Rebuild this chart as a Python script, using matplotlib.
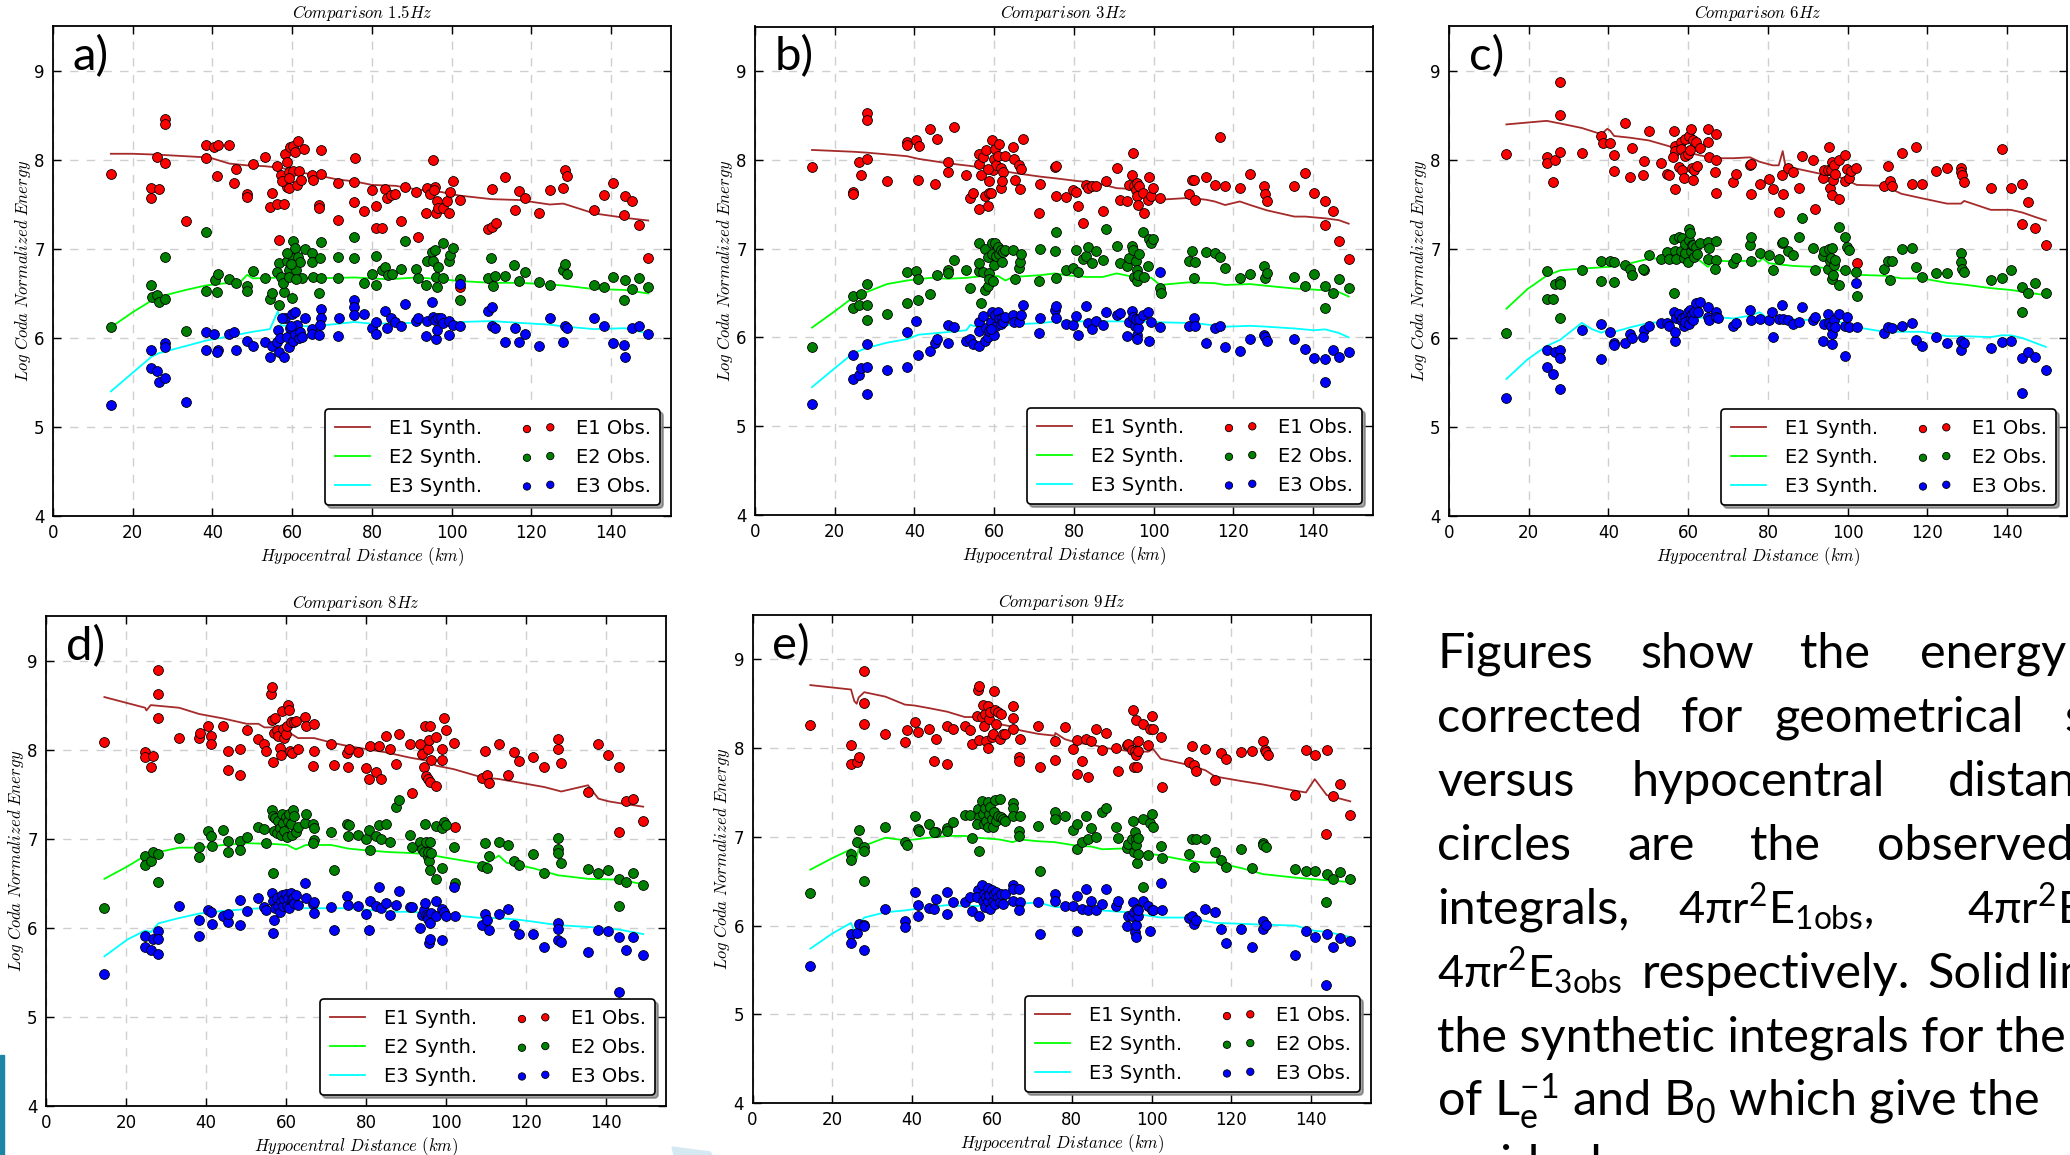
import matplotlib
matplotlib.use('Agg')
import matplotlib.pyplot as plt
from matplotlib.patches import Rectangle, Polygon

plt.rcParams['font.family'] = ['DejaVu Sans']
plt.rcParams['mathtext.fontset'] = 'custom'
plt.rcParams['mathtext.rm'] = 'Lato'
plt.rcParams['mathtext.it'] = 'Lato:italic'
plt.rcParams['mathtext.bf'] = 'Lato:bold'
plt.rcParams['mathtext.fallback'] = 'stixsans'

# ---- 1.5 Hz : observed (distance km, log energy) ----
a_e1 = [(14.5,7.84),(24.7,7.68),(24.7,7.57),(26.2,8.03),(26.6,7.67),(28.1,8.46),(28.1,8.41),(28.1,7.97),(33.3,7.32),
        (38.3,8.17),(38.3,8.02),(40.5,8.15),(41.4,8.17),(41.2,7.82),(44.2,8.17),(45.8,7.90),(45.5,7.74),(48.7,7.62),
        (48.7,7.58),(50.1,7.95),(53.2,8.03),(55.0,7.63),(54.5,7.47),(56.7,7.10),(56.3,7.51),(58.0,7.51),(56.2,7.93),
        (57.2,7.83),(58.1,8.07),(58.7,7.98),(59.3,7.87),(58.8,7.70),(59.2,7.68),(59.5,8.15),(60.3,8.16),(60.8,8.09),
        (60.1,7.88),(61.4,8.21),(61.8,7.88),(62.9,8.12),(61.2,7.72),(62.3,7.78),(57.5,7.76),(59.2,7.80),(65.0,7.83),
        (65.2,7.77),(67.2,8.11),(67.3,7.84),(66.7,7.49),(66.7,7.46),(71.5,7.74),(71.5,7.33),(75.7,8.02),(75.6,7.75),
        (75.6,7.53),(78.0,7.43),(80.0,7.66),(80.9,7.48),(81.1,7.24),(82.6,7.24),(83.2,7.67),(83.8,7.57),(84.8,7.61),
        (85.9,7.62),(87.3,7.31),(88.4,7.70),(91.1,7.64),(91.6,7.13),(93.5,7.40),(93.8,7.68),(94.6,7.62),(95.2,8.00),
        (95.7,7.70),(96.3,7.54),(96.0,7.41),(96.6,7.46),(97.7,7.46),(95.6,7.66),(98.8,7.54),(99.2,7.41),(99.6,7.64),
        (100.2,7.76),(102.0,7.55),(102.0,6.57),(109.0,7.22),(110.0,7.67),(110.0,7.25),(111.0,7.29),(113.3,7.81),
        (115.8,7.44),(117.0,7.65),(118.4,7.57),(121.8,7.41),(124.6,7.66),(128.0,7.69),(128.3,7.89),(128.8,7.82),
        (135.7,7.44),(138.3,7.61),(140.5,7.74),(143.3,7.38),(143.5,7.59),(145.1,7.54),(146.9,7.27),(149.3,6.90)]
a_e2 = [(14.5,6.12),(24.7,6.59),(24.9,6.46),(26.2,6.48),(26.6,6.41),(28.1,6.44),(28.1,6.91),(33.3,6.08),(38.3,7.19),
        (38.3,6.53),(40.6,6.65),(41.4,6.72),(41.2,6.52),(44.2,6.66),(45.8,6.62),(48.6,6.58),(48.6,6.53),(50.1,6.75),
        (53.2,6.67),(54.4,6.44),(55.0,6.50),(56.7,6.37),(56.7,6.84),(56.3,6.74),(57.3,6.68),(58.0,6.52),(57.8,6.62),
        (58.7,6.87),(59.3,6.76),(60.1,7.09),(60.6,7.01),(60.2,6.90),(59.2,6.68),(59.9,6.45),(61.0,6.76),(61.5,6.91),
        (62.0,6.85),(62.4,6.67),(63.1,7.00),(59.7,6.83),(58.7,6.96),(60.9,6.66),(65.0,6.96),(65.0,6.85),(65.2,6.68),
        (66.7,6.50),(67.2,7.08),(67.0,6.90),(67.3,6.67),(71.5,6.91),(71.5,6.67),(75.6,7.14),(75.5,6.90),(78.0,6.62),
        (80.0,6.72),(80.9,6.92),(80.9,6.60),(82.6,6.76),(83.2,6.80),(83.9,6.71),(85.0,6.72),(87.3,6.78),(88.4,7.09),
        (91.1,6.78),(91.6,6.67),(93.5,6.59),(93.8,6.86),(95.0,6.97),(95.4,6.87),(95.8,6.99),(96.1,6.68),(96.2,6.57),
        (96.5,6.80),(97.7,7.07),(97.7,6.67),(99.2,6.86),(99.6,6.93),(100.2,7.01),(102.0,6.66),(102.0,6.43),(109.0,6.67),
        (109.8,6.90),(110.3,6.58),(110.9,6.70),(113.3,6.70),(115.7,6.82),(117.0,6.64),(118.4,6.74),(121.8,6.63),
        (124.6,6.59),(128.0,6.76),(128.3,6.83),(128.8,6.72),(135.7,6.59),(138.3,6.57),(140.5,6.68),(143.3,6.43),
        (143.5,6.65),(145.1,6.55),(146.9,6.67),(149.3,6.57)]
a_e3 = [(14.5,5.25),(24.7,5.86),(24.7,5.66),(26.2,5.63),(26.6,5.50),(28.1,5.94),(28.1,5.90),(28.1,5.55),(33.3,5.28),
        (38.3,6.07),(38.3,5.87),(40.5,6.04),(41.4,5.86),(41.2,5.84),(44.2,6.04),(45.4,6.07),(45.8,5.86),(48.6,5.97),
        (50.1,5.91),(53.2,5.96),(54.4,5.79),(55.0,5.91),(56.7,5.84),(58.0,5.79),(56.4,6.09),(56.3,5.95),(57.0,6.00),
        (58.1,6.22),(58.7,6.01),(59.2,5.90),(59.4,6.11),(60.0,6.27),(60.3,5.97),(60.6,6.29),(60.8,6.05),(61.2,6.15),
        (61.6,6.00),(62.0,6.07),(62.5,6.01),(63.1,6.23),(59.8,6.13),(57.5,6.22),(65.0,6.10),(65.0,6.05),(66.7,6.03),
        (67.2,6.33),(67.3,6.22),(67.0,6.15),(71.5,6.02),(71.8,6.22),(75.6,6.43),(75.4,6.35),(75.6,6.26),(78.0,6.27),
        (80.0,6.11),(80.9,6.18),(80.9,6.04),(83.2,6.30),(83.8,6.11),(84.8,6.23),(85.9,6.18),(87.3,6.14),(88.4,6.38),
        (91.1,6.19),(91.6,6.22),(93.5,6.02),(93.8,6.19),(95.0,6.41),(95.2,6.24),(95.7,6.20),(96.1,5.99),(96.3,6.09),
        (96.6,6.22),(97.4,6.22),(97.7,6.17),(99.2,6.03),(99.2,6.19),(100.2,6.15),(102.0,6.61),(102.0,6.14),(109.0,6.30),
        (110.0,6.35),(110.0,6.14),(110.9,6.11),(113.3,5.96),(115.8,6.11),(117.0,5.96),(118.4,6.05),(121.8,5.91),
        (124.6,6.23),(128.0,5.96),(128.3,6.14),(128.8,6.11),(135.7,6.22),(138.3,6.13),(140.5,5.94),(143.3,5.92),
        (143.5,5.79),(145.1,6.11),(146.9,6.14),(149.3,6.04)]
# 1.5 Hz : synthetic curves
a_s1 = [(14.5,8.07),(20.0,8.07),(26.2,8.06),(38.3,8.03),(39.8,8.02),(44.2,7.96),(48.6,7.94),(53.2,7.93),(57.5,7.91),
        (60.3,7.87),(65.0,7.84),(71.5,7.78),(75.6,7.76),(80.0,7.72),(85.9,7.71),(91.1,7.67),(97.4,7.64),(102.0,7.60),
        (110.0,7.56),(117.0,7.55),(124.6,7.50),(128.0,7.51),(135.7,7.40),(143.5,7.35),(149.3,7.32)]
a_s2 = [(14.5,6.12),(20.0,6.29),(24.7,6.42),(28.1,6.48),(33.3,6.54),(38.3,6.59),(44.2,6.62),(47.0,6.63),(48.7,6.71),
        (50.1,6.67),(57.5,6.68),(65.0,6.67),(75.6,6.68),(84.1,6.66),(91.1,6.68),(97.4,6.66),(102.0,6.64),(110.0,6.62),
        (117.0,6.62),(124.6,6.60),(128.0,6.59),(135.7,6.55),(143.5,6.54),(149.3,6.50)]
a_s3 = [(14.5,5.40),(20.0,5.61),(24.7,5.79),(26.6,5.83),(33.3,5.91),(38.3,5.97),(44.2,6.02),(50.1,6.07),(54.4,6.10),
        (56.4,6.30),(57.2,6.14),(65.0,6.13),(71.5,6.16),(75.6,6.18),(80.0,6.16),(91.1,6.17),(97.4,6.18),(102.0,6.18),
        (110.0,6.19),(117.0,6.17),(124.6,6.15),(128.0,6.13),(135.7,6.10),(143.5,6.11),(149.3,6.05)]

# ---- 3 Hz ----
b_e1 = [(14.3,7.92),(24.6,7.64),(24.6,7.61),(26.1,7.97),(26.5,7.83),(28.0,8.53),(28.0,8.45),(28.0,8.01),(33.1,7.76),
        (38.1,8.20),(38.2,8.17),(40.3,8.22),(41.2,8.15),(41.0,7.77),(44.0,8.35),(45.6,8.23),(45.2,7.73),(48.4,7.97),
        (48.4,7.86),(50.0,8.37),(53.0,7.83),(54.0,7.57),(54.7,7.63),(56.3,7.45),(58.5,7.48),(56.3,8.07),(56.1,7.95),
        (56.6,7.83),(57.1,8.03),(57.7,7.59),(58.0,8.11),(58.8,7.76),(58.8,7.63),(59.1,7.62),(59.5,8.22),(59.8,7.88),
        (59.9,8.01),(60.3,8.12),(60.5,7.94),(61.0,8.04),(61.3,8.18),(61.7,7.91),(61.7,7.68),(62.3,7.86),(62.0,7.76),
        (58.4,7.90),(62.8,8.04),(64.7,8.14),(64.9,8.01),(65.1,7.77),(66.3,7.94),(66.7,7.90),(66.5,7.67),(67.1,8.23),
        (71.5,7.73),(71.3,7.40),(75.2,7.92),(75.5,7.93),(75.4,7.59),(77.9,7.58),(79.8,7.66),(80.5,7.64),(80.9,7.48),
        (82.3,7.29),(83.1,7.71),(83.6,7.68),(84.6,7.70),(85.5,7.70),(87.2,7.42),(88.1,7.76),(90.7,7.91),(91.5,7.55),
        (93.2,7.53),(93.7,7.71),(94.6,7.83),(94.9,8.08),(95.0,7.70),(95.5,7.66),(95.8,7.74),(95.9,7.59),(96.1,7.49),
        (96.3,7.70),(97.4,7.63),(97.6,7.40),(98.5,7.55),(98.9,7.80),(99.4,7.59),(99.8,7.68),(101.6,7.57),(108.8,7.61),
        (109.6,7.77),(110.1,7.77),(110.4,7.55),(113.1,7.80),(115.3,7.72),(116.6,8.26),(117.9,7.70),(121.6,7.68),
        (124.2,7.84),(127.6,7.70),(127.9,7.61),(128.4,7.54),(135.3,7.70),(138.0,7.85),(140.2,7.62),(143.0,7.54),
        (142.9,7.27),(144.9,7.42),(146.4,7.09),(148.9,6.88)]
b_e2 = [(14.3,5.89),(24.6,6.47),(24.6,6.33),(26.1,6.37),(26.5,6.49),(28.0,6.60),(28.0,6.37),(28.0,6.20),(33.1,6.26),
        (38.1,6.74),(38.1,6.39),(40.3,6.75),(41.0,6.66),(41.0,6.42),(44.0,6.49),(45.6,6.70),(48.4,6.76),(48.4,6.72),
        (50.0,6.87),(53.0,6.76),(54.0,6.56),(56.3,7.06),(56.3,6.75),(56.3,6.84),(56.6,6.39),(57.1,6.74),(57.7,7.00),
        (57.7,6.53),(58.5,6.90),(58.5,6.58),(58.8,6.72),(59.5,7.06),(59.5,6.94),(59.9,6.82),(60.1,7.06),(60.5,6.92),
        (61.0,7.02),(61.3,6.94),(61.7,6.98),(62.0,6.85),(62.3,6.96),(62.7,6.98),(58.8,6.66),(59.7,6.64),(64.7,6.98),
        (65.1,6.66),(66.3,6.78),(66.5,6.85),(66.7,6.94),(71.5,6.99),(71.3,6.64),(75.2,6.97),(75.5,7.19),(75.4,6.67),
        (77.9,6.76),(79.8,6.78),(80.5,6.98),(80.9,6.74),(82.3,6.88),(83.1,6.92),(83.6,7.02),(84.6,6.84),(85.5,6.97),
        (87.2,6.87),(88.1,7.22),(90.7,7.03),(91.5,6.84),(93.2,6.80),(93.7,6.89),(94.6,7.03),(94.9,6.98),(95.0,6.68),
        (95.5,6.86),(95.8,6.76),(95.9,6.63),(96.1,6.70),(96.3,6.94),(97.4,7.19),(97.6,6.68),(98.5,6.80),(98.9,7.11),
        (99.4,7.06),(99.8,7.11),(101.6,6.56),(101.8,6.50),(108.8,6.86),(109.6,6.97),(110.1,6.67),(110.4,6.85),
        (113.1,6.96),(115.3,6.95),(116.6,6.90),(117.9,6.78),(121.6,6.67),(124.2,6.71),(127.6,6.80),(127.9,6.67),
        (128.4,6.72),(135.3,6.68),(138.0,6.58),(140.2,6.71),(143.0,6.58),(142.9,6.33),(144.9,6.50),(146.4,6.66),
        (148.9,6.56)]
b_e3 = [(14.3,5.25),(24.6,5.80),(24.6,5.53),(26.1,5.58),(26.5,5.66),(28.0,5.92),(28.0,5.67),(28.0,5.36),(33.1,5.63),
        (38.1,6.06),(38.1,5.67),(40.3,6.18),(41.0,5.80),(44.0,5.85),(45.2,5.94),(45.6,5.98),(48.4,6.14),(48.4,5.94),
        (50.0,6.12),(53.0,5.96),(54.0,5.98),(54.7,5.92),(56.3,5.90),(56.3,6.17),(56.3,6.07),(57.1,6.24),(57.7,5.96),
        (58.0,6.11),(58.5,6.00),(58.8,6.07),(59.1,6.17),(59.5,6.29),(59.9,6.03),(60.3,6.25),(60.5,6.13),(61.0,6.29),
        (61.3,6.21),(61.7,6.15),(62.0,6.22),(62.3,6.17),(62.8,6.23),(59.1,6.09),(64.7,6.25),(64.9,6.17),(66.3,6.17),
        (66.7,6.25),(67.1,6.37),(71.5,6.22),(71.3,6.05),(75.2,6.31),(75.5,6.35),(75.4,6.22),(77.9,6.15),(79.8,6.14),
        (80.5,6.24),(80.9,6.03),(83.1,6.35),(83.6,6.16),(84.6,6.09),(85.5,6.18),(87.2,6.14),(88.1,6.28),(90.7,6.25),
        (91.5,6.27),(93.2,6.01),(93.7,6.17),(94.6,6.30),(94.9,6.23),(95.2,6.13),(95.5,6.21),(95.8,6.03),(95.9,5.98),
        (96.1,6.11),(96.3,6.21),(97.4,6.25),(98.5,6.29),(98.9,5.96),(99.4,6.17),(101.6,6.74),(101.6,6.12),(108.8,6.13),
        (110.1,6.22),(110.4,6.13),(113.1,5.94),(115.3,6.11),(116.6,6.13),(117.9,5.89),(121.6,5.85),(124.2,5.98),
        (127.6,6.03),(127.9,6.00),(128.4,5.96),(135.3,5.98),(138.0,5.87),(140.2,5.77),(143.0,5.76),(142.9,5.50),
        (144.9,5.86),(146.4,5.78),(148.9,5.84)]
b_s1 = [(14.3,8.11),(24.6,8.09),(28.0,8.08),(33.1,8.06),(38.1,8.04),(41.0,8.01),(48.4,7.96),(54.0,7.93),(57.1,7.91),
        (61.0,7.88),(66.7,7.84),(71.5,7.81),(75.5,7.79),(80.9,7.76),(85.5,7.74),(90.7,7.68),(94.9,7.67),(97.6,7.65),
        (99.4,7.56),(101.6,7.55),(108.8,7.57),(113.1,7.55),(115.3,7.53),(117.9,7.49),(121.6,7.53),(124.2,7.49),
        (128.4,7.43),(135.3,7.36),(138.0,7.36),(143.0,7.34),(146.4,7.32),(148.9,7.28)]
b_s2 = [(14.3,6.11),(20.2,6.30),(24.6,6.45),(28.0,6.51),(33.1,6.60),(38.1,6.64),(44.0,6.67),(48.4,6.66),(53.0,6.67),
        (57.1,6.69),(61.0,6.69),(62.8,6.64),(64.7,6.68),(71.5,6.70),(75.2,6.72),(77.9,6.70),(83.1,6.68),(87.2,6.68),
        (90.7,6.72),(95.0,6.68),(99.4,6.67),(101.6,6.59),(108.8,6.62),(115.3,6.61),(117.9,6.59),(124.2,6.60),
        (128.4,6.58),(135.3,6.55),(143.0,6.53),(146.4,6.51),(148.9,6.46)]
b_s3 = [(14.3,5.44),(20.2,5.66),(24.6,5.82),(28.0,5.88),(33.1,5.94),(38.1,5.98),(41.0,6.03),(48.4,6.06),(53.0,6.08),
        (54.0,6.14),(56.6,6.11),(61.0,6.13),(66.7,6.15),(71.5,6.16),(75.5,6.18),(80.9,6.18),(87.2,6.18),(95.0,6.18),
        (101.6,6.17),(110.4,6.16),(117.9,6.12),(124.2,6.13),(128.4,6.12),(135.3,6.10),(140.2,6.08),(143.0,6.09),
        (146.4,6.05),(148.9,6.00)]

# ---- 6 Hz ----
c_e1 = [(14.4,8.07),(24.5,8.03),(24.7,7.97),(26.2,7.75),(26.5,8.00),(27.9,8.88),(27.9,8.50),(27.9,8.09),(33.3,8.08),
        (38.2,8.27),(38.5,8.19),(40.4,8.19),(41.4,7.88),(41.5,8.06),(44.2,8.42),(45.9,8.13),(45.5,7.81),(48.8,7.99),
        (48.7,7.83),(50.1,8.33),(53.2,7.97),(54.8,7.84),(55.1,7.83),(56.5,8.33),(56.7,8.16),(56.7,8.10),(56.3,8.03),
        (56.7,7.67),(57.8,7.92),(58.1,8.20),(58.3,8.12),(58.4,7.89),(58.9,7.80),(59.1,8.24),(59.3,8.04),(59.9,8.07),
        (60.1,8.27),(60.4,8.11),(60.6,8.35),(60.9,7.91),(61.2,7.78),(61.3,8.22),(61.5,7.89),(62.0,8.20),(62.1,7.93),
        (62.9,8.14),(64.9,8.35),(65.0,8.20),(65.2,8.03),(66.9,8.29),(66.9,8.00),(66.6,7.86),(66.9,7.63),(71.3,7.75),
        (71.9,7.84),(75.5,7.94),(75.7,7.95),(75.7,7.62),(77.9,7.73),(80.2,7.79),(81.2,7.67),(82.7,7.42),(83.5,7.83),
        (83.7,7.62),(85.1,7.91),(86.3,7.86),(87.7,7.69),(88.5,8.05),(91.2,8.00),(91.8,7.45),(93.7,7.80),(94.1,7.89),
        (95.0,7.89),(95.3,8.15),(95.5,7.69),(95.7,7.89),(96.0,7.98),(96.1,7.61),(96.3,7.77),(96.6,7.94),(96.8,7.84),
        (97.9,7.56),(97.7,8.00),(99.2,7.76),(99.4,8.06),(99.9,7.90),(100.3,7.80),(100.8,7.88),(102.1,7.91),(102.3,6.84),
        (109.2,7.71),(110.1,7.93),(110.6,7.76),(111.0,7.71),(113.5,8.08),(116.0,7.73),(117.2,8.15),(118.6,7.73),
        (122.2,7.88),(124.9,7.91),(128.4,7.91),(128.4,7.86),(128.6,7.83),(129.2,7.75),(135.9,7.69),(138.6,8.12),
        (140.9,7.69),(143.8,7.73),(143.6,7.28),(145.3,7.53),(147.0,7.24),(149.7,7.05)]
c_e2 = [(14.4,6.06),(24.5,6.75),(24.5,6.44),(26.2,6.44),(26.5,6.61),(27.9,6.64),(27.9,6.61),(27.9,6.22),(33.3,6.76),
        (38.2,6.86),(38.2,6.64),(40.4,6.87),(41.4,6.85),(41.4,6.63),(44.2,6.82),(45.5,6.78),(45.9,6.71),(48.8,6.76),
        (48.7,6.78),(50.1,6.93),(53.2,6.89),(54.8,6.97),(55.1,6.89),(56.5,7.11),(56.5,6.51),(56.7,6.98),(56.9,6.89),
        (57.8,7.13),(58.1,6.98),(58.4,7.12),(58.9,6.90),(59.1,6.96),(59.3,7.06),(59.9,6.85),(60.1,7.10),(60.2,7.22),
        (60.4,7.18),(60.6,6.98),(60.9,7.05),(61.2,7.04),(61.5,6.91),(62.0,7.02),(62.1,6.94),(62.9,7.07),(64.9,7.08),
        (65.0,6.89),(65.2,7.01),(66.9,7.09),(66.9,6.88),(66.6,6.78),(71.3,6.84),(71.9,6.90),(75.5,7.05),(75.7,7.13),
        (75.7,6.87),(77.9,6.96),(80.2,6.93),(81.2,6.76),(82.7,6.89),(83.5,7.07),(83.7,7.08),(85.1,6.98),(86.3,6.93),
        (87.7,7.14),(88.5,7.35),(91.2,7.01),(91.8,6.76),(93.7,6.92),(94.1,6.98),(95.0,6.77),(95.3,7.00),(95.5,6.86),
        (95.7,6.90),(96.0,7.01),(96.1,6.66),(96.3,6.71),(96.6,6.82),(96.8,6.88),(97.9,6.59),(97.7,7.25),(99.2,6.76),
        (99.4,7.14),(99.9,7.02),(100.3,6.99),(102.1,6.74),(102.3,6.47),(109.2,6.77),(110.1,6.87),(110.6,6.65),
        (111.0,6.86),(113.5,7.00),(116.0,7.01),(117.2,6.80),(118.6,6.68),(122.2,6.73),(124.9,6.73),(128.4,6.96),
        (128.4,6.85),(128.6,6.78),(129.2,6.74),(135.9,6.65),(138.6,6.67),(140.9,6.76),(143.8,6.57),(143.6,6.29),
        (145.3,6.50),(147.0,6.62),(149.7,6.50)]
c_e3 = [(14.4,5.33),(24.5,5.87),(24.7,5.67),(26.2,5.60),(26.5,5.84),(27.9,5.86),(27.9,5.77),(27.9,5.43),(33.3,6.09),
        (38.2,6.16),(38.2,5.76),(40.4,6.07),(41.4,5.94),(41.5,5.92),(44.2,5.94),(45.5,6.04),(45.9,6.00),(48.8,6.09),
        (48.7,6.01),(50.1,6.13),(53.2,6.17),(54.8,6.17),(55.1,6.14),(56.5,6.29),(56.7,5.97),(56.7,6.07),(56.9,6.22),
        (57.8,6.27),(58.1,6.20),(58.4,6.22),(58.9,6.14),(59.1,6.24),(59.3,6.18),(59.9,6.29),(60.1,6.16),(60.4,6.32),
        (60.6,6.22),(60.9,6.27),(61.2,6.20),(61.5,6.29),(62.0,6.39),(62.4,6.29),(62.9,6.40),(64.9,6.35),(65.0,6.24),
        (65.2,6.20),(66.9,6.29),(66.9,6.24),(67.4,6.22),(71.3,6.13),(71.9,6.17),(75.5,6.31),(75.7,6.20),(77.9,6.21),
        (80.2,6.20),(81.2,6.01),(80.9,6.29),(82.7,6.21),(83.5,6.37),(83.7,6.21),(85.1,6.20),(86.3,6.16),(87.7,6.18),
        (88.5,6.35),(91.2,6.20),(91.8,6.24),(93.7,5.97),(94.1,6.16),(95.0,6.27),(95.3,6.17),(95.7,6.14),(96.0,6.04),
        (96.1,5.93),(96.6,6.20),(96.8,6.12),(97.9,6.27),(99.2,5.80),(99.4,6.14),(99.9,6.24),(100.3,6.12),(102.1,6.62),
        (102.3,6.12),(109.2,6.06),(110.1,6.12),(111.0,6.11),(113.5,6.14),(116.0,6.17),(117.2,5.98),(118.6,5.91),
        (122.2,6.01),(124.9,5.94),(128.4,5.97),(128.4,5.87),(129.2,5.94),(135.9,5.89),(138.6,5.95),(140.9,5.97),
        (143.8,5.78),(143.6,5.38),(145.3,5.84),(147.0,5.79),(149.7,5.64)]
c_s1 = [(14.4,8.40),(24.5,8.44),(27.9,8.41),(33.3,8.36),(38.2,8.29),(39.7,8.35),(40.4,8.33),(41.4,8.27),(45.5,8.25),
        (50.1,8.22),(54.8,8.16),(60.2,8.08),(65.2,8.03),(66.9,8.02),(71.3,8.02),(75.5,8.03),(77.9,7.98),(81.2,7.94),
        (82.7,7.94),(83.7,8.10),(84.4,7.93),(88.5,7.89),(93.7,7.84),(96.8,7.83),(100.3,7.76),(102.3,7.72),(109.2,7.71),
        (113.5,7.62),(118.6,7.57),(124.9,7.51),(128.4,7.51),(129.2,7.54),(135.9,7.44),(138.6,7.44),(140.9,7.44),
        (143.8,7.41),(147.0,7.36),(149.7,7.32)]
c_s2 = [(14.4,6.33),(19.7,6.55),(24.5,6.70),(27.9,6.76),(33.3,6.78),(40.4,6.80),(45.5,6.84),(50.1,6.89),(54.8,6.90),
        (60.2,6.89),(62.9,6.87),(64.9,6.80),(66.9,6.87),(71.3,6.86),(75.5,6.87),(77.9,6.86),(78.6,6.90),(80.2,6.84),
        (86.3,6.81),(91.2,6.80),(96.0,6.78),(100.3,6.73),(102.3,6.71),(109.2,6.70),(113.5,6.67),(118.6,6.67),
        (124.9,6.62),(129.2,6.60),(135.9,6.56),(140.9,6.54),(143.8,6.52),(149.7,6.48)]
c_s3 = [(14.4,5.54),(19.7,5.76),(24.5,5.91),(27.9,5.98),(33.3,6.17),(35.8,6.10),(38.2,6.06),(40.4,6.10),(41.5,6.07),
        (45.5,6.12),(50.1,6.17),(54.8,6.18),(60.2,6.21),(65.2,6.24),(71.3,6.22),(75.5,6.25),(77.9,6.29),(80.2,6.21),
        (86.3,6.21),(91.2,6.20),(96.8,6.20),(100.3,6.14),(102.3,6.12),(109.2,6.07),(113.5,6.07),(118.6,6.07),
        (124.9,6.02),(129.2,6.02),(135.9,6.01),(138.6,6.03),(140.9,6.03),(143.8,6.00),(149.7,5.90)]

# ---- 8 Hz ----
d_e1 = [(14.6,8.09),(24.8,7.97),(24.8,7.92),(26.2,7.81),(26.7,7.93),(28.1,8.89),(28.1,8.63),(28.1,8.35),(33.3,8.13),
        (38.3,8.13),(38.6,8.19),(40.6,8.27),(41.3,8.15),(41.3,8.06),(44.3,8.27),(45.6,7.99),(45.4,7.77),(48.6,8.01),
        (48.5,7.72),(50.2,8.22),(53.1,8.12),(54.4,8.06),(54.9,7.99),(56.2,8.63),(56.6,8.70),(56.4,8.33),(56.8,7.86),
        (57.0,8.19),(57.3,8.35),(57.7,8.22),(58.1,8.15),(58.5,8.02),(58.8,7.94),(59.0,8.43),(59.3,8.23),(59.6,8.13),
        (59.9,8.17),(60.2,8.27),(60.5,8.50),(60.7,8.45),(61.0,7.99),(61.2,8.31),(61.4,7.96),(62.0,8.31),(62.5,8.32),
        (63.1,8.01),(64.8,8.37),(65.0,8.26),(67.0,8.29),(66.9,7.99),(66.7,7.82),(71.3,8.06),(71.9,7.83),(75.3,7.96),
        (75.7,8.01),(75.5,7.81),(77.9,7.97),(79.9,7.79),(80.9,8.04),(80.8,7.67),(82.5,7.75),(83.2,8.04),(83.8,7.67),
        (84.9,8.15),(85.9,8.01),(87.4,7.84),(88.3,8.17),(91.0,8.06),(91.5,7.51),(93.5,8.06),(93.9,7.95),(94.5,7.80),
        (94.8,8.27),(95.1,7.70),(95.4,8.01),(95.6,7.67),(95.8,8.11),(95.9,8.27),(96.0,7.64),(96.3,7.88),(97.6,8.14),
        (97.6,7.59),(98.9,7.88),(99.0,8.01),(99.6,8.35),(100.1,8.22),(102.0,8.08),(102.2,7.13),(108.9,7.68),(109.7,7.98),
        (110.3,7.72),(110.7,7.62),(113.2,8.06),(115.5,7.72),(116.9,7.97),(118.3,7.87),(121.7,7.92),(124.6,7.81),
        (128.0,8.12),(128.1,8.01),(128.8,7.85),(135.5,7.52),(138.1,8.06),(140.6,7.94),(143.3,7.81),(143.3,7.07),
        (145.0,7.42),(146.7,7.45),(149.3,7.20)]
d_e2 = [(14.6,6.22),(24.8,6.81),(24.8,6.70),(26.2,6.75),(26.7,6.85),(28.1,6.83),(28.1,6.51),(33.3,7.01),(38.3,6.91),
        (38.3,6.80),(40.6,7.09),(41.3,7.03),(41.6,6.92),(44.3,7.10),(45.6,6.98),(45.6,6.85),(48.6,6.97),(48.6,6.87),
        (50.2,7.02),(53.1,7.13),(54.4,7.11),(54.9,6.95),(56.6,7.32),(56.8,7.26),(56.7,6.62),(57.0,7.09),(57.3,7.23),
        (57.7,7.06),(58.1,7.20),(58.5,7.12),(58.8,7.04),(59.0,7.28),(59.3,7.18),(59.6,7.09),(59.9,7.24),(60.2,7.02),
        (60.5,7.20),(60.7,7.28),(61.2,7.16),(61.4,7.04),(61.7,7.32),(62.1,7.26),(62.5,7.08),(63.0,7.13),(64.8,7.18),
        (65.0,7.28),(66.7,7.17),(66.9,6.99),(67.0,7.12),(66.7,6.95),(71.3,7.08),(71.9,6.65),(75.3,7.17),(75.5,7.03),
        (75.7,7.15),(77.9,7.04),(79.9,7.00),(80.9,6.87),(80.8,7.10),(82.5,7.03),(83.2,7.15),(83.8,7.00),(84.9,7.16),
        (85.9,6.96),(87.4,7.36),(88.3,7.43),(91.0,7.04),(91.5,6.91),(93.5,6.96),(93.9,6.89),(94.5,6.85),(94.8,7.16),
        (95.1,6.96),(95.4,6.79),(95.6,6.85),(95.8,6.75),(95.9,6.65),(96.0,6.96),(96.3,6.84),(97.6,7.14),(97.6,6.55),
        (98.9,6.67),(99.0,7.12),(99.6,7.19),(100.1,7.15),(102.0,6.91),(102.2,6.50),(108.9,6.69),(109.7,6.95),
        (110.3,6.67),(110.7,6.81),(113.2,6.96),(115.5,6.93),(116.9,6.75),(118.3,6.71),(121.7,6.83),(124.6,6.62),
        (128.0,7.01),(128.1,6.89),(128.0,6.84),(128.8,6.73),(135.5,6.66),(138.1,6.61),(140.6,6.65),(143.3,6.55),
        (143.3,6.25),(145.0,6.51),(146.7,6.61),(149.3,6.48)]
d_e3 = [(14.6,5.48),(24.8,5.91),(24.8,5.79),(26.2,5.75),(26.7,5.87),(28.1,5.96),(28.1,5.87),(28.1,5.71),(33.3,6.25),
        (38.3,6.09),(38.3,5.91),(40.6,6.20),(41.3,6.18),(41.6,6.04),(44.3,6.13),(45.6,6.07),(45.6,6.16),(48.6,6.31),
        (48.6,6.03),(50.2,6.19),(53.1,6.33),(54.4,6.23),(54.9,6.20),(56.6,6.39),(56.7,5.94),(57.0,6.09),(56.8,6.30),
        (57.3,6.22),(57.7,6.34),(58.1,6.24),(58.5,6.18),(58.8,6.30),(59.0,6.37),(59.3,6.24),(59.6,6.32),(59.9,6.38),
        (60.2,6.26),(60.5,6.34),(60.7,6.22),(61.2,6.39),(61.4,6.31),(61.7,6.34),(62.1,6.28),(62.5,6.37),(63.0,6.26),
        (64.8,6.50),(65.0,6.33),(66.7,6.27),(66.9,6.17),(67.0,6.29),(71.3,6.23),(71.9,5.98),(75.3,6.36),(75.5,6.26),
        (77.9,6.25),(79.9,6.16),(80.9,6.30),(80.8,5.97),(82.5,6.24),(83.2,6.46),(83.8,6.22),(84.9,6.28),(85.9,6.14),
        (87.4,6.26),(88.3,6.41),(91.0,6.23),(91.5,6.23),(93.5,6.00),(93.9,6.14),(94.5,6.20),(94.8,6.28),(95.1,6.14),
        (95.4,6.13),(95.6,6.10),(95.8,5.83),(95.9,6.05),(96.0,5.87),(96.3,6.17),(97.6,6.30),(97.6,6.13),(98.9,6.21),
        (99.0,5.86),(99.6,6.18),(100.1,6.13),(102.0,6.46),(102.2,6.13),(108.9,6.03),(109.7,6.16),(110.3,6.09),
        (110.7,5.98),(113.2,6.16),(115.5,6.21),(116.9,6.03),(118.3,5.93),(121.7,5.93),(124.6,5.79),(128.0,6.05),
        (128.1,5.99),(128.0,5.86),(128.8,5.84),(135.5,5.73),(138.1,5.98),(140.6,5.96),(143.3,5.90),(143.3,5.28),
        (145.0,5.75),(146.7,5.90),(149.3,5.70)]
d_s1 = [(14.6,8.59),(24.8,8.47),(25.1,8.44),(26.2,8.50),(33.3,8.47),(38.3,8.40),(44.3,8.35),(50.2,8.29),(53.1,8.29),
        (54.6,8.25),(57.3,8.25),(61.2,8.18),(63.0,8.13),(67.0,8.13),(71.3,8.08),(75.5,8.04),(80.9,8.00),(84.9,7.97),
        (91.0,7.91),(94.8,7.88),(97.6,7.82),(102.0,7.78),(108.9,7.69),(113.2,7.67),(118.3,7.63),(124.6,7.58),
        (128.0,7.54),(128.8,7.53),(135.5,7.60),(138.1,7.45),(140.6,7.42),(143.3,7.40),(149.3,7.36)]
d_s2 = [(14.6,6.55),(20.4,6.69),(24.8,6.81),(28.1,6.85),(33.3,6.90),(38.3,6.90),(44.3,6.93),(50.2,6.95),(57.3,6.94),
        (60.3,6.93),(62.5,6.88),(65.0,6.93),(71.3,6.93),(75.5,6.89),(79.9,6.87),(85.9,6.85),(91.0,6.84),(94.8,6.83),
        (99.6,6.79),(108.9,6.72),(110.3,6.73),(113.2,6.81),(115.2,6.73),(121.7,6.67),(128.0,6.59),(135.5,6.55),
        (143.3,6.54),(149.3,6.49)]
d_s3 = [(14.6,5.68),(20.4,5.87),(24.8,5.97),(26.2,5.95),(28.1,6.05),(33.3,6.11),(38.3,6.16),(44.3,6.19),(50.2,6.21),
        (57.3,6.23),(63.0,6.22),(71.3,6.22),(75.5,6.22),(80.9,6.20),(85.9,6.18),(91.0,6.18),(97.6,6.16),(102.0,6.14),
        (108.9,6.11),(113.2,6.11),(118.3,6.09),(121.7,6.07),(128.0,6.03),(135.5,6.01),(143.3,5.98),(149.3,5.93)]

# ---- 9 Hz ----
e_e1 = [(14.5,8.26),(24.7,8.03),(24.7,7.82),(26.1,7.84),(26.6,7.90),(28.0,8.87),(28.0,8.51),(28.0,8.27),(33.3,8.16),
        (38.2,8.07),(38.6,8.20),(40.6,8.29),(41.6,8.18),(44.3,8.21),(45.9,8.10),(45.6,7.86),(48.8,8.25),(48.8,7.82),
        (50.2,8.22),(53.2,8.25),(54.4,8.20),(55.0,8.05),(56.5,8.66),(56.8,8.70),(56.3,8.36),(56.8,8.09),(57.4,8.35),
        (57.8,8.49),(58.0,8.25),(58.3,8.38),(58.5,8.08),(58.9,8.00),(59.1,8.47),(59.3,8.33),(59.6,8.41),(60.0,8.12),
        (60.2,8.16),(60.5,8.64),(60.8,8.43),(61.1,8.27),(61.6,8.41),(61.9,8.10),(62.4,8.38),(62.7,8.16),(63.2,8.16),
        (65.2,8.48),(65.3,8.34),(65.2,8.22),(66.9,7.90),(67.1,8.10),(66.9,7.86),(71.6,8.25),(72.1,7.79),(75.7,8.08),
        (75.9,7.87),(78.3,8.24),(80.4,7.99),(81.3,8.09),(81.2,7.71),(82.7,7.85),(83.5,8.10),(84.0,7.67),(84.9,8.08),
        (86.0,8.21),(87.6,7.98),(88.5,8.17),(91.2,8.00),(91.6,7.74),(93.8,8.04),(94.2,8.05),(95.1,7.98),(95.3,8.43),
        (95.6,7.79),(95.8,7.97),(96.0,7.92),(96.2,8.32),(96.3,7.79),(96.5,8.08),(96.7,7.97),(97.9,8.27),(99.2,8.03),
        (99.6,8.22),(100.1,8.36),(100.4,8.22),(102.3,8.12),(102.5,7.56),(109.3,7.84),(110.1,8.02),(110.6,7.81),
        (111.2,7.74),(113.5,7.99),(115.9,7.64),(117.3,7.95),(118.7,7.88),(122.3,7.96),(125.1,7.97),(127.9,8.08),
        (128.5,7.98),(128.7,7.96),(129.1,7.92),(136.0,7.47),(138.7,7.98),(140.9,7.92),(143.9,7.98),(143.7,7.03),
        (145.6,7.46),(147.2,7.60),(149.8,7.25)]
e_e2 = [(14.5,6.37),(24.7,6.81),(24.7,6.74),(26.1,6.94),(26.6,7.08),(28.0,6.89),(28.0,6.84),(28.0,6.50),(33.3,7.11),
        (38.2,6.94),(38.6,6.91),(40.6,7.24),(41.6,7.09),(41.7,7.06),(44.3,7.15),(45.9,7.05),(45.6,7.05),(48.8,7.10),
        (48.8,7.06),(50.2,7.17),(53.2,7.25),(54.4,7.25),(55.0,6.99),(56.5,7.31),(56.8,7.22),(56.8,6.84),(56.3,7.14),
        (57.4,7.40),(57.8,7.26),(58.0,7.14),(58.3,7.32),(58.5,7.18),(58.9,7.11),(59.1,7.39),(59.3,7.26),(59.6,7.34),
        (60.0,7.20),(60.2,7.11),(60.5,7.28),(60.8,7.42),(61.1,7.18),(61.6,7.23),(61.9,7.43),(62.4,7.22),(62.7,7.20),
        (63.2,7.18),(65.2,7.38),(65.3,7.32),(65.2,7.24),(66.9,7.06),(67.1,7.24),(66.9,7.01),(71.6,7.12),(72.1,6.62),
        (75.7,7.28),(75.9,7.20),(78.3,7.23),(80.4,7.08),(81.3,7.15),(81.2,6.86),(82.7,6.94),(83.5,7.23),(84.0,6.97),
        (84.9,7.10),(86.0,7.00),(87.6,7.28),(88.5,7.33),(91.2,7.11),(91.6,6.99),(93.8,6.87),(94.2,6.92),(95.1,6.97),
        (95.3,7.18),(95.6,6.83),(95.8,7.05),(96.0,6.97),(96.2,6.91),(96.3,6.71),(96.5,6.99),(96.7,6.81),(97.9,7.20),
        (97.9,6.43),(99.2,6.80),(99.6,7.16),(100.1,7.26),(100.4,7.11),(102.3,6.90),(102.5,6.76),(109.3,6.81),
        (110.1,6.97),(110.6,6.66),(111.2,6.97),(113.5,6.97),(115.9,6.83),(117.3,6.74),(118.7,6.66),(122.3,6.86),
        (125.1,6.65),(127.9,6.93),(128.0,6.91),(128.6,6.88),(136.0,6.64),(138.7,6.62),(140.9,6.62),(143.9,6.58),
        (143.7,6.26),(145.6,6.53),(147.2,6.60),(149.8,6.52)]
e_e3 = [(14.5,5.54),(24.7,5.90),(24.7,5.80),(26.1,5.92),(26.6,6.02),(28.0,6.01),(28.0,5.99),(28.0,5.72),(33.3,6.19),
        (38.2,6.05),(38.2,5.98),(40.6,6.38),(41.6,6.23),(41.6,6.11),(44.3,6.20),(45.9,6.30),(45.6,6.19),(48.8,6.38),
        (48.8,6.13),(50.2,6.26),(53.2,6.26),(54.4,6.32),(55.0,6.16),(56.5,6.40),(56.8,6.11),(56.3,6.32),(57.4,6.46),
        (57.8,6.28),(58.0,6.36),(58.3,6.21),(58.5,6.32),(58.9,6.42),(59.1,6.28),(59.3,6.34),(59.6,6.19),(60.0,6.40),
        (60.2,6.28),(60.5,6.35),(60.8,6.24),(61.1,6.38),(61.6,6.32),(61.9,6.27),(62.4,6.35),(62.7,6.24),(63.2,6.36),
        (65.2,6.46),(65.3,6.41),(65.2,6.28),(66.9,6.41),(67.1,6.26),(66.9,6.17),(71.6,6.27),(72.1,5.90),(75.7,6.35),
        (75.9,6.28),(78.3,6.22),(80.4,6.22),(81.3,6.33),(81.2,5.94),(82.7,6.19),(83.5,6.41),(84.0,6.17),(84.9,6.28),
        (86.0,6.17),(87.6,6.24),(88.5,6.41),(91.2,6.22),(91.6,6.28),(93.8,6.00),(94.2,6.11),(95.1,6.11),(95.3,6.26),
        (95.6,6.15),(95.8,5.93),(96.0,6.01),(96.2,5.87),(96.3,6.19),(96.5,6.11),(96.7,6.17),(97.9,6.28),(99.2,6.22),
        (99.6,5.94),(100.1,6.17),(100.4,6.17),(102.3,6.48),(102.5,6.17),(109.3,6.09),(110.1,6.11),(110.6,6.02),
        (111.2,6.06),(113.5,6.19),(115.9,6.15),(117.3,5.96),(118.7,5.80),(122.3,5.96),(125.1,5.76),(127.9,5.96),
        (128.0,6.05),(128.6,6.01),(136.0,5.67),(138.7,5.94),(140.9,5.87),(143.9,5.91),(143.7,5.33),(145.6,5.76),
        (147.2,5.86),(149.8,5.83)]
e_s1 = [(14.5,8.71),(24.7,8.66),(25.5,8.53),(26.1,8.50),(26.6,8.57),(28.0,8.63),(33.3,8.58),(38.2,8.49),(40.6,8.48),
        (44.3,8.45),(48.8,8.41),(53.2,8.35),(56.3,8.35),(58.9,8.31),(61.9,8.27),(65.2,8.24),(67.1,8.20),(71.6,8.16),
        (75.7,8.14),(75.9,8.17),(78.3,8.10),(81.3,8.06),(84.9,8.04),(88.5,8.00),(93.8,7.97),(96.0,7.96),(99.2,7.96),
        (100.4,7.99),(102.3,7.88),(109.3,7.81),(113.5,7.75),(115.9,7.68),(122.3,7.63),(127.9,7.59),(136.0,7.52),
        (138.7,7.50),(140.9,7.65),(143.9,7.47),(145.6,7.45),(149.8,7.40)]
e_s2 = [(14.5,6.63),(20.0,6.76),(24.7,6.86),(26.1,6.75),(26.6,6.87),(28.0,6.90),(33.3,6.99),(38.2,6.96),(40.6,6.97),
        (44.3,6.99),(48.8,7.01),(53.2,7.01),(56.3,6.99),(61.9,6.97),(65.2,6.94),(67.1,6.97),(71.6,6.95),(75.7,6.94),
        (81.3,6.90),(84.9,6.89),(87.6,6.86),(93.8,6.87),(97.9,6.82),(102.3,6.79),(109.3,6.73),(113.5,6.71),
        (115.9,6.71),(122.3,6.65),(127.9,6.58),(136.0,6.54),(143.9,6.51),(149.8,6.49)]
e_s3 = [(14.5,5.74),(20.0,5.91),(24.7,6.03),(25.5,5.94),(26.6,6.01),(28.0,6.09),(33.3,6.15),(38.2,6.17),(44.3,6.21),
        (48.8,6.23),(53.2,6.22),(56.3,6.22),(61.9,6.24),(65.2,6.24),(71.6,6.26),(75.7,6.21),(81.3,6.20),(87.6,6.17),
        (93.8,6.15),(97.9,6.12),(102.3,6.09),(109.3,6.09),(115.9,6.03),(122.3,6.02),(127.9,6.01),(136.0,6.00),
        (140.9,5.94),(143.9,5.93),(149.8,5.87)]

panel_tags = ['a)', 'b)', 'c)', 'd)', 'e)']
panel_freqs = ['1.5', '3', '6', '8', '9']
synth_labels = ['E1 Synth.', 'E2 Synth.', 'E3 Synth.']
obs_labels = ['E1 Obs.', 'E2 Obs.', 'E3 Obs.']
xticks = [0, 20, 40, 60, 80, 100, 120, 140]
yticks = [4, 5, 6, 7, 8, 9]

synth_colors = ['#a52a2a', '#00ff00', '#00ffff']
obs_colors = ['#ff0000', '#008000', '#0000ff']

W, H = 2070, 1155
fig = plt.figure(figsize=(W / 100, H / 100), dpi=100)


def px_rect(left, top, right, bottom):
    return [left / W, 1 - bottom / H, (right - left) / W, (bottom - top) / H]


boxes = [px_rect(53, 26.5, 671, 516), px_rect(755, 26.5, 1373, 515), px_rect(1449, 26.5, 2067, 516),
         px_rect(46, 616, 666, 1106), px_rect(752.5, 615, 1371, 1103)]
series = [(a_e1, a_e2, a_e3, a_s1, a_s2, a_s3), (b_e1, b_e2, b_e3, b_s1, b_s2, b_s3),
          (c_e1, c_e2, c_e3, c_s1, c_s2, c_s3), (d_e1, d_e2, d_e3, d_s1, d_s2, d_s3),
          (e_e1, e_e2, e_e3, e_s1, e_s2, e_s3)]

for box, tag, freq, data in zip(boxes, panel_tags, panel_freqs, series):
    ax = fig.add_axes(box)
    obs, syn = data[:3], data[3:]
    handles = []
    for pts, col, lab in zip(syn, synth_colors, synth_labels):
        x, y = zip(*pts)
        ln, = ax.plot(x, y, color=col, lw=1.3, zorder=2, label=lab)
        handles.append(ln)
    for pts, col, lab in zip(obs, obs_colors, obs_labels):
        x, y = zip(*pts)
        sc = ax.scatter(x, y, s=50, c=col, edgecolors='k', linewidths=0.6, zorder=3, label=lab)
        handles.append(sc)

    ax.set_xlim(0, 155)
    ax.set_ylim(4, 9.5)
    ax.set_xticks(xticks)
    ax.set_yticks(yticks)
    ax.grid(True, color='#cfcfcf', linestyle=(0, (6, 6)), lw=1.0)
    ax.set_axisbelow(True)
    ax.tick_params(direction='in', top=True, right=True, length=6, width=1, labelsize=12, pad=6)
    for sp in ax.spines.values():
        sp.set_linewidth(1.3)

    ax.set_title(r'$Comparison\ ' + freq + r'Hz$', fontsize=12, pad=6, math_fontfamily='cm')
    ax.set_xlabel(r'$Hypocentral\ Distance\ (km)$', fontsize=12, labelpad=2, math_fontfamily='cm')
    ax.set_ylabel(r'$Log\ Coda\ Normalized\ Energy$', fontsize=12, labelpad=1, math_fontfamily='cm')

    leg = ax.legend(handles=handles, loc='lower right', ncol=2, scatterpoints=2, markerscale=0.75,
                    fontsize=14, shadow=True, fancybox=True, framealpha=1, edgecolor='k',
                    borderpad=0.5, handlelength=1.8, handletextpad=1.0, columnspacing=2.0,
                    labelspacing=0.5, borderaxespad=0.55)
    leg.get_frame().set_linewidth(1.2)

    ax.text(0.032, 0.91, tag, transform=ax.transAxes, fontsize=34, family='Lato',
            ha='left', va='baseline', zorder=5)

# explanatory paragraph (justified word placement, math pieces set a touch smaller)
para = [
    [(1437, 'Figures'), (1640, 'show'), (1800, 'the'), (1920, 'energy')],
    [(1437, 'corrected'), (1681, 'for'), (1775, 'geometrical'), (2064, 'spreading')],
    [(1437, 'versus'), (1632, 'hypocentral'), (1948, 'distance')],
    [(1437, 'circles'), (1627, 'are'), (1750, 'the'), (1877, 'observed')],
    [(1437, 'integrals,'), (1678, r'$\mathrm{4\pi r^2E_{1obs},}$'), (1967, r'$\mathrm{4\pi r^2E_{2obs}}$')],
    [(1437, r'$\mathrm{4\pi r^2E_{3obs}}$'), (1642, 'respectively.'), (1927, 'Solid'), (2036, 'lines')],
    [(1437, 'the synthetic integrals for the')],
    [(1437, r'of $\mathrm{L_e^{-1}}$ and $\mathrm{B_0}$ which give the')],
    [(1437, 'residuals.')],
]
for i, words in enumerate(para):
    yb = 668 + 64 * i
    for xp, w in words:
        size = 32.5 if w.startswith('$') else 35
        fig.text(xp / W, 1 - yb / H, w, fontsize=size, family='Lato', ha='left', va='baseline')

# slide decorations at the bottom edge
fig.patches.append(Rectangle((0, 0), 4 / W, 100 / H, transform=fig.transFigure,
                             color='#1b86a6', zorder=0))
fig.patches.append(Polygon([(672 / W, 1 - 1147 / H), (710 / W, 1 - 1152 / H),
                            (712 / W, 0), (674 / W, 0)], closed=True,
                           transform=fig.transFigure, color='#d6e9f3', zorder=0))

fig.savefig('out.png', dpi=100)
